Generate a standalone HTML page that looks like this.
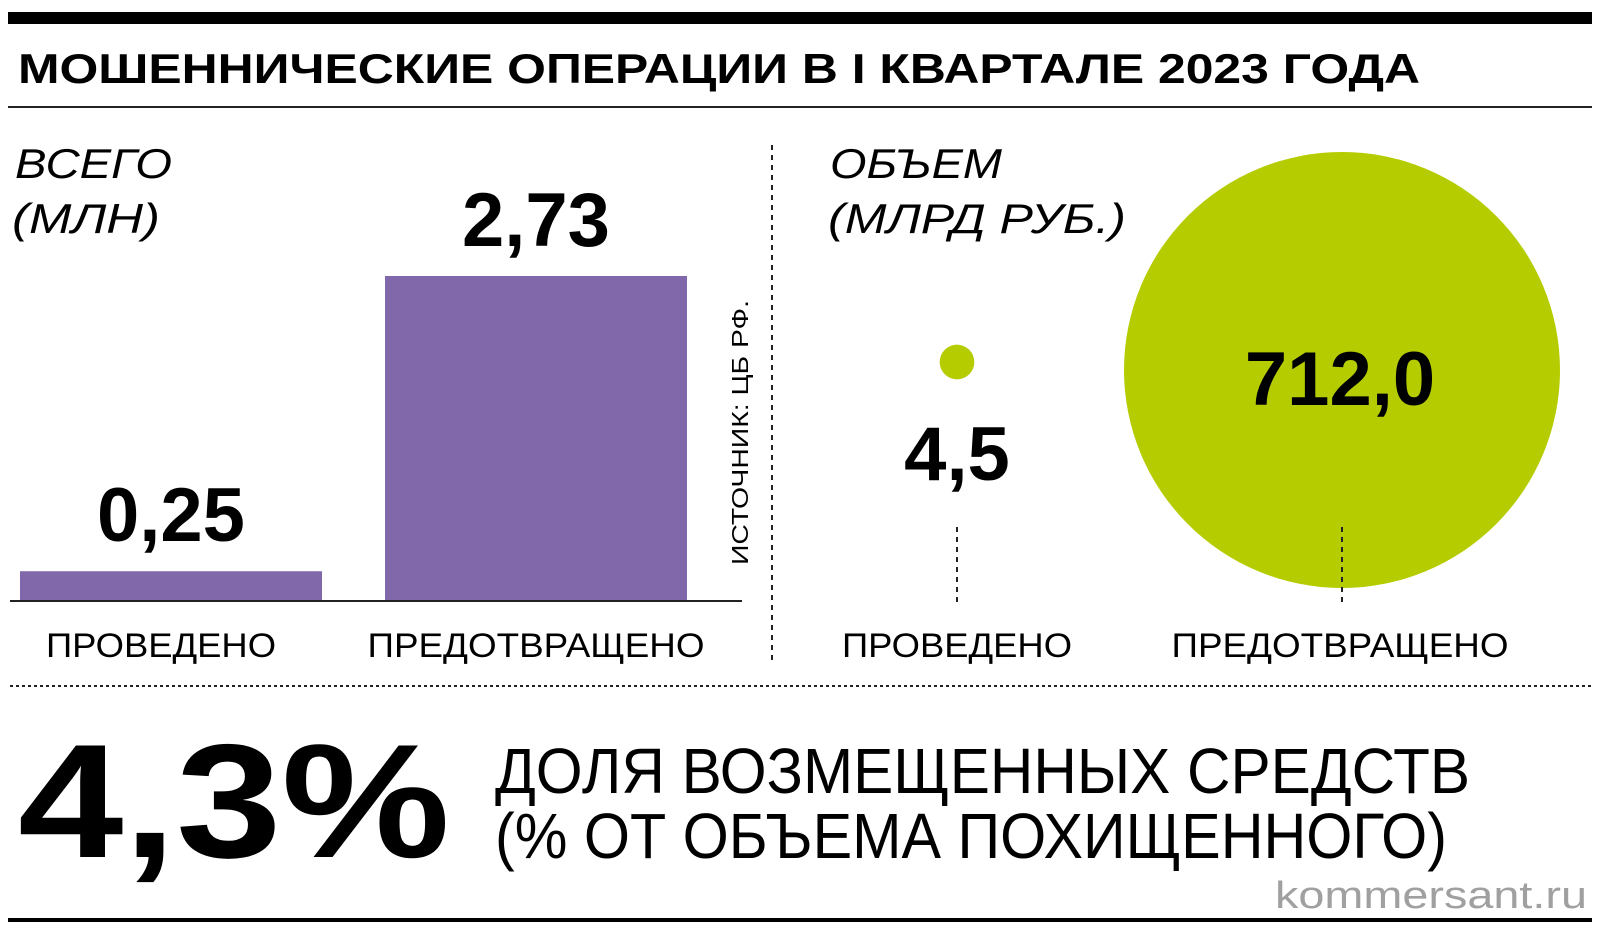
<!DOCTYPE html>
<html><head><meta charset="utf-8"><style>
html,body{margin:0;padding:0;background:#fff;}
svg{display:block;font-family:"Liberation Sans",sans-serif;}
</style></head><body>
<svg id="chart" width="1600" height="933" viewBox="0 0 1600 933">
<rect x="8" y="12" width="1584" height="12" fill="#000"/>
<text x="18" y="83" font-size="42" font-weight="bold" textLength="1402" lengthAdjust="spacingAndGlyphs">МОШЕННИЧЕСКИЕ ОПЕРАЦИИ В I КВАРТАЛЕ 2023 ГОДА</text>
<rect x="8" y="106" width="1584" height="2" fill="#222"/>
<text x="15" y="178" font-size="42" font-style="italic" textLength="157" lengthAdjust="spacingAndGlyphs">ВСЕГО</text>
<text x="12" y="233" font-size="42" font-style="italic" textLength="148" lengthAdjust="spacingAndGlyphs">(МЛН)</text>
<text x="830" y="178" font-size="42" font-style="italic" textLength="172" lengthAdjust="spacingAndGlyphs">ОБЪЕМ</text>
<text x="828" y="233" font-size="42" font-style="italic" textLength="298" lengthAdjust="spacingAndGlyphs">(МЛРД РУБ.)</text>
<g id="bars"></g>
<line x1="10" y1="601" x2="742" y2="601" stroke="#222" stroke-width="2"/>
<text transform="translate(748,565) rotate(-90)" font-size="23" textLength="265" lengthAdjust="spacingAndGlyphs">ИСТОЧНИК: ЦБ РФ.</text>
<line x1="772" y1="145" x2="772" y2="662" stroke="#222" stroke-width="2" stroke-dasharray="5,5"/>
<g id="bubbles"></g>
<line x1="10" y1="686" x2="1592" y2="686" stroke="#222" stroke-width="2" stroke-dasharray="3,3"/>
<text x="18" y="857" font-size="162" font-weight="bold" textLength="432" lengthAdjust="spacingAndGlyphs">4,3%</text>
<text x="495" y="793" font-size="64" textLength="975" lengthAdjust="spacingAndGlyphs">ДОЛЯ ВОЗМЕЩЕННЫХ СРЕДСТВ</text>
<text x="495" y="858" font-size="64" textLength="952" lengthAdjust="spacingAndGlyphs">(% ОТ ОБЪЕМА ПОХИЩЕННОГО)</text>
<text x="1587" y="908" font-size="38" fill="#a0a0a0" text-anchor="end" textLength="312" lengthAdjust="spacingAndGlyphs">kommersant.ru</text>
<rect x="8" y="918" width="1584" height="4" fill="#000"/>
</svg>
<script>
const barCategories = ["ПРОВЕДЕНО", "ПРЕДОТВРАЩЕНО"];
const barValues = [0.25, 2.73];
const barLabels = ["0,25", "2,73"];
const bubbleCategories = ["ПРОВЕДЕНО", "ПРЕДОТВРАЩЕНО"];
const bubbleValues = [4.5, 712.0];
const bubbleLabels = ["4,5", "712,0"];

const NS = "http://www.w3.org/2000/svg";
function mk(tag, attrs){const e=document.createElementNS(NS,tag);for(const k in attrs)e.setAttribute(k,attrs[k]);return e;}
// bar axes
const baseY = 601, barScale = 325 / 2.73;
const yBar = v => baseY - v * barScale;
const barX0 = [20, 385], barW = 302; // band layout
const xBand = i => 20 + i * 365;
const bars = document.getElementById('bars');
barValues.forEach((v,i)=>{
  const x = xBand(i);
  const r = mk('rect',{x:x,y:yBar(v),width:barW,height:baseY-yBar(v),fill:'#8068ab'});
  
  
  bars.appendChild(r);
  const t = mk('text',{x:x+barW/2,y:yBar(v)-30,'font-size':76,'font-weight':'bold','text-anchor':'middle'});
  t.textContent = barLabels[i];
  
  
  bars.appendChild(t);
  const c = mk('text',{x:x+barW/2-(i?0:10),y:657,'font-size':34,'text-anchor':'middle',textLength:i?337:230,lengthAdjust:'spacingAndGlyphs'});
  c.textContent = barCategories[i];
  
  
  bars.appendChild(c);
});
// bubbles: area scaled
const bubbleCx = [957, 1342];
const maxR = 218, maxV = Math.max(...bubbleValues);
const rScale = v => maxR * Math.sqrt(v / maxV);
const bubbles = document.getElementById('bubbles');
bubbleValues.forEach((v,i)=>{
  const r = rScale(v);
  const cy = i ? 370 : 362;
  const c = mk('circle',{cx:bubbleCx[i],cy:cy,r:r,fill:'#b5cc00'});
  
  
  bubbles.appendChild(c);
  const l = mk('line',{x1:bubbleCx[i],y1:527,x2:bubbleCx[i],y2:603,stroke:'#222','stroke-width':2,'stroke-dasharray':'5,5'});
  
  
  bubbles.appendChild(l);
  const t = mk('text',{x:bubbleCx[i]-(i?2:0),y:i?405:480,'font-size':76,'font-weight':'bold','text-anchor':'middle'});
  t.textContent = bubbleLabels[i];
  
  
  bubbles.appendChild(t);
  const ct = mk('text',{x:bubbleCx[i]-(i?2:0),y:657,'font-size':34,'text-anchor':'middle',textLength:i?337:230,lengthAdjust:'spacingAndGlyphs'});
  ct.textContent = bubbleCategories[i];
  
  
  bubbles.appendChild(ct);
});
</script>
</body></html>
